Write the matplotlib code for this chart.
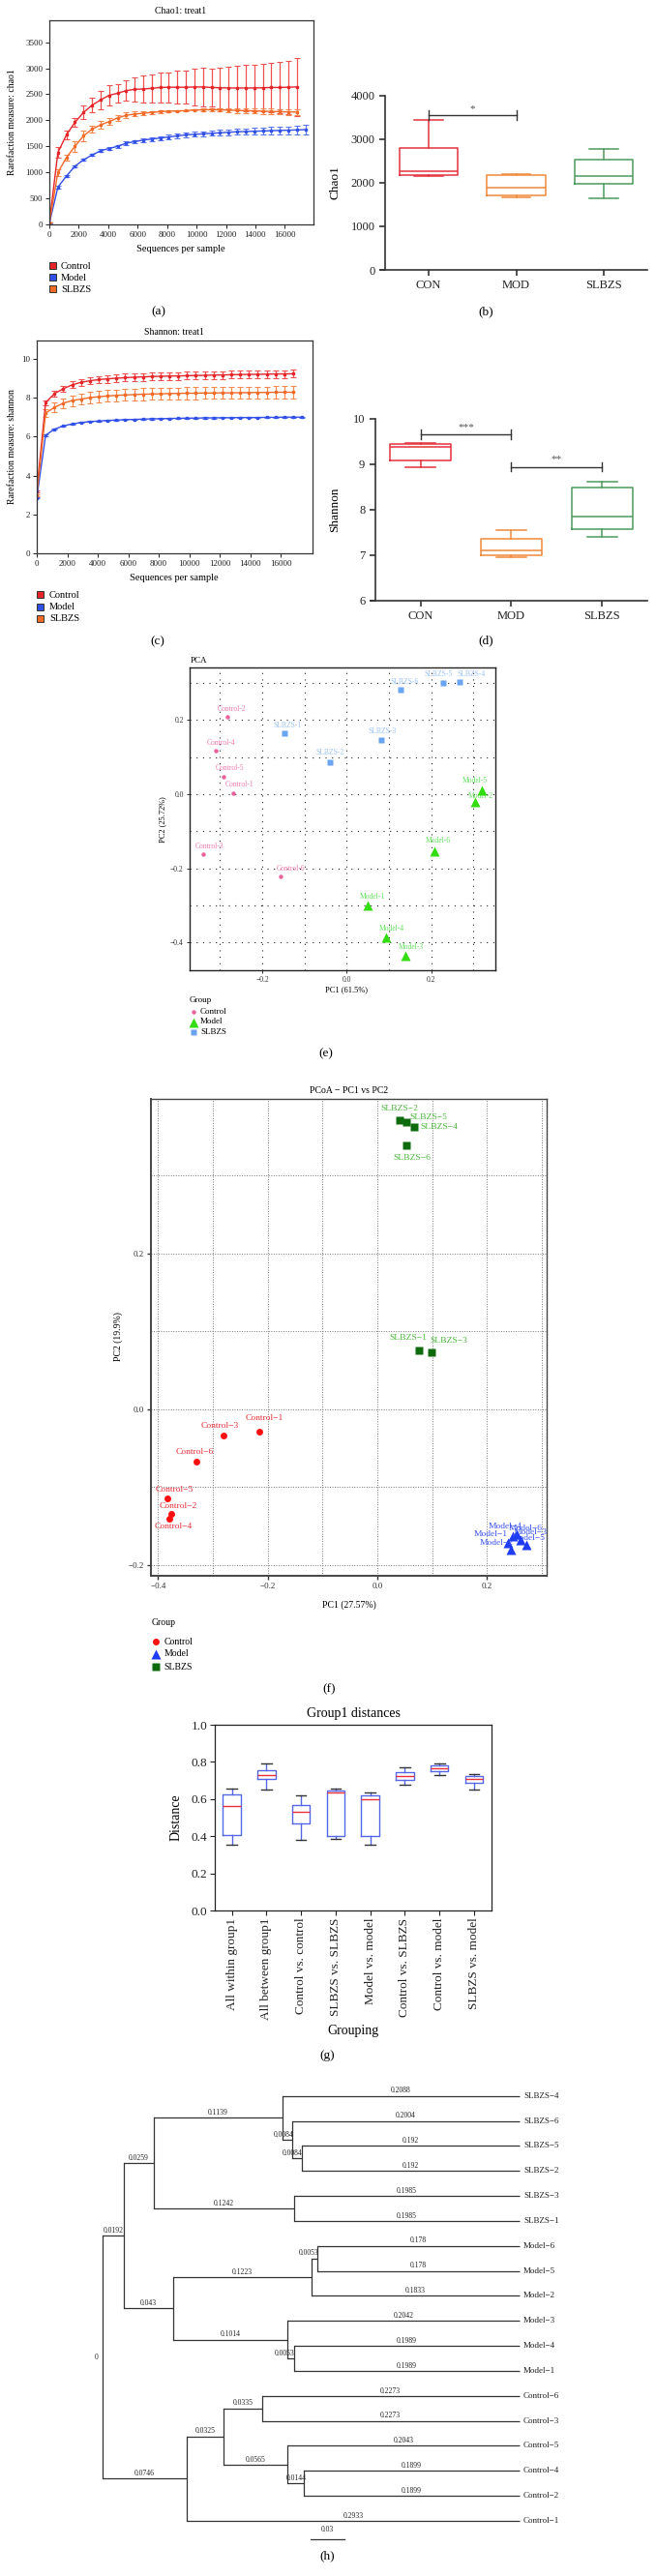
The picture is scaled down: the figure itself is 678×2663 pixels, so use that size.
import matplotlib
matplotlib.use("Agg")
import matplotlib.pyplot as plt
import numpy as np
from matplotlib.patches import Rectangle

plt.rcParams['font.family'] = ['Liberation Serif', 'DejaVu Serif']
plt.rcParams['axes.unicode_minus'] = True

# ---------------- data ----------------
depth = [0, 580, 1160, 1740, 2320, 2900, 3480, 4060, 4640, 5220, 5800, 6380, 6960, 7540, 8120,
         8700, 9280, 9860, 10440, 11020, 11600, 12180, 12760, 13340, 13920, 14500, 15080, 15660,
         16240, 16820]
depth_model = depth + [17400]

chao_control = [30, 1380, 1720, 1960, 2150, 2290, 2390, 2480, 2520, 2570, 2595, 2600, 2615, 2630, 2635,
                2635, 2635, 2640, 2640, 2630, 2625, 2620, 2620, 2620, 2620, 2625, 2630, 2630, 2635, 2640]
chao_control_err = [0, 100, 90, 90, 130, 140, 170, 200, 180, 200, 230, 260, 270, 280, 290, 310, 320, 360,
                    370, 370, 390, 400, 420, 440, 450, 460, 480, 490, 510, 550]
chao_slbzs = [30, 995, 1285, 1500, 1700, 1830, 1910, 1975, 2045, 2095, 2120, 2135, 2150, 2165, 2175, 2180,
              2185, 2200, 2200, 2205, 2200, 2195, 2190, 2185, 2180, 2175, 2170, 2165, 2160, 2160]
chao_slbzs_err = [0, 60, 60, 100, 110, 70, 70, 60, 55, 60, 45, 35, 30, 25, 20, 15, 15, 15, 30, 30, 35, 40,
                  45, 45, 50, 50, 55, 55, 60, 60]
chao_model = [20, 715, 930, 1118, 1240, 1333, 1415, 1458, 1500, 1560, 1590, 1620, 1640, 1660, 1680, 1700,
              1720, 1730, 1740, 1750, 1760, 1770, 1780, 1785, 1790, 1795, 1800, 1805, 1810, 1815, 1820]
chao_model_err = [0, 20, 20, 20, 20, 20, 25, 25, 25, 30, 30, 35, 35, 35, 40, 40, 45, 45, 50, 50, 55, 55,
                  60, 60, 65, 65, 70, 70, 75, 80, 85]

shan_control = [3.2, 7.75, 8.21, 8.46, 8.66, 8.79, 8.87, 8.93, 8.97, 9.0, 9.03, 9.05, 9.07, 9.09, 9.1,
                9.11, 9.12, 9.13, 9.14, 9.15, 9.16, 9.17, 9.18, 9.19, 9.2, 9.2, 9.21, 9.22, 9.22, 9.23]
shan_control_err = [0.05, 0.12, 0.14, 0.16, 0.17, 0.18, 0.19, 0.19, 0.2, 0.2, 0.2, 0.2, 0.2, 0.2, 0.2,
                    0.2, 0.2, 0.2, 0.2, 0.2, 0.2, 0.2, 0.2, 0.2, 0.2, 0.2, 0.2, 0.2, 0.2, 0.2]
shan_slbzs = [3.0, 7.21, 7.5, 7.72, 7.85, 7.93, 8.0, 8.05, 8.09, 8.12, 8.14, 8.16, 8.18, 8.19, 8.2, 8.21,
              8.22, 8.23, 8.23, 8.24, 8.24, 8.25, 8.25, 8.26, 8.26, 8.27, 8.27, 8.28, 8.28, 8.28]
shan_slbzs_err = [0.05, 0.22, 0.24, 0.26, 0.27, 0.28, 0.28, 0.29, 0.29, 0.29, 0.3, 0.3, 0.3, 0.3, 0.3,
                  0.3, 0.3, 0.3, 0.3, 0.3, 0.3, 0.3, 0.3, 0.3, 0.3, 0.3, 0.3, 0.3, 0.3, 0.3]
shan_model = [2.85, 6.07, 6.38, 6.55, 6.65, 6.72, 6.77, 6.8, 6.83, 6.85, 6.87, 6.88, 6.9, 6.91, 6.92,
              6.93, 6.94, 6.95, 6.95, 6.96, 6.96, 6.97, 6.97, 6.98, 6.98, 6.98, 6.99, 6.99, 7.0, 7.0, 7.0]
shan_model_err = [0.03] * 31

box_groups = ['CON', 'MOD', 'SLBZS']
chao_whislo = [2160, 1671, 1634]
chao_q1 = [2180, 1715, 1967]
chao_med = [2270, 1878, 2144]
chao_q3 = [2790, 2166, 2536]
chao_whishi = [3431, 2188, 2765]

shan_whislo = [8.93, 6.95, 7.40]
shan_q1 = [9.085, 6.985, 7.56]
shan_med = [9.38, 7.09, 7.84]
shan_q3 = [9.45, 7.35, 8.48]
shan_whishi = [9.47, 7.55, 8.61]

pca_names = ['Control-1', 'Control-2', 'Control-3', 'Control-4', 'Control-5', 'Control-6',
             'Model-1', 'Model-2', 'Model-3', 'Model-4', 'Model-5', 'Model-6',
             'SLBZS-1', 'SLBZS-2', 'SLBZS-3', 'SLBZS-4', 'SLBZS-5', 'SLBZS-6']
pca_pc1 = [-0.269, -0.2825, -0.340, -0.310, -0.292, -0.156,
           0.050, 0.305, 0.140, 0.092, 0.319, 0.207,
           -0.147, -0.039, 0.0825, 0.268, 0.228, 0.127]
pca_pc2 = [0.003, 0.209, -0.162, 0.117, 0.048, -0.221,
           -0.301, -0.021, -0.435, -0.387, 0.011, -0.155,
           0.1635, 0.087, 0.146, 0.303, 0.301, 0.281]

pcoa_names = pca_names
pcoa_pc1 = [-0.2154, -0.3753, -0.281, -0.380, -0.3838, -0.330,
            0.238, 0.243, 0.262, 0.248, 0.272, 0.255,
            0.0753, 0.0406, 0.0983, 0.0667, 0.053, 0.0537]
pcoa_pc2 = [-0.0286, -0.134, -0.0335, -0.140, -0.114, -0.0668,
            -0.172, -0.180, -0.168, -0.163, -0.174, -0.160,
            0.0754, 0.371, 0.0729, 0.362, 0.369, 0.3395]

dist_groups = ['All within group1', 'All between group1', 'Control vs. control', 'SLBZS vs. SLBZS',
               'Model vs. model', 'Control vs. SLBZS', 'Control vs. model', 'SLBZS vs. model']
dist_whislo = [0.356, 0.653, 0.379, 0.384, 0.356, 0.679, 0.730, 0.651]
dist_q1 = [0.407, 0.709, 0.467, 0.400, 0.402, 0.705, 0.751, 0.688]
dist_med = [0.565, 0.730, 0.530, 0.635, 0.600, 0.726, 0.767, 0.707]
dist_q3 = [0.623, 0.756, 0.570, 0.647, 0.619, 0.744, 0.779, 0.723]
dist_whishi = [0.658, 0.793, 0.621, 0.658, 0.635, 0.770, 0.793, 0.735]

leaf_order = ['SLBZS-4', 'SLBZS-6', 'SLBZS-5', 'SLBZS-2', 'SLBZS-3', 'SLBZS-1',
              'Model-6', 'Model-5', 'Model-2', 'Model-3', 'Model-4', 'Model-1',
              'Control-6', 'Control-3', 'Control-5', 'Control-4', 'Control-2', 'Control-1']
tree_edges = [
    ('root', 'A', 0.0192), ('A', 'B', 0.0259), ('B', 'C', 0.1139), ('C', 'SLBZS-4', 0.2088),
    ('C', 'D', 0.0084), ('D', 'SLBZS-6', 0.2004), ('D', 'E', 0.0084), ('E', 'SLBZS-5', 0.192),
    ('E', 'SLBZS-2', 0.192), ('B', 'F', 0.1242), ('F', 'SLBZS-3', 0.1985), ('F', 'SLBZS-1', 0.1985),
    ('A', 'G', 0.043), ('G', 'H', 0.1223), ('H', 'I', 0.0053), ('I', 'Model-6', 0.178),
    ('I', 'Model-5', 0.178), ('H', 'Model-2', 0.1833), ('G', 'J', 0.1014), ('J', 'Model-3', 0.2042),
    ('J', 'K', 0.0053), ('K', 'Model-4', 0.1989), ('K', 'Model-1', 0.1989),
    ('root', 'L', 0.0746), ('L', 'M', 0.0325), ('M', 'N', 0.0335), ('N', 'Control-6', 0.2273),
    ('N', 'Control-3', 0.2273), ('M', 'O', 0.0565), ('O', 'Control-5', 0.2043), ('O', 'P', 0.0144),
    ('P', 'Control-4', 0.1899), ('P', 'Control-2', 0.1899), ('L', 'Control-1', 0.2933)]
scale_bar_len = 0.03

# ---------------- figure ----------------
W, H = 678, 2663
fig = plt.figure(figsize=(W / 100, H / 100), dpi=100)
PT = 0.72  # points per pixel


def pax(l, t, r, b, **kw):
    return fig.add_axes([l / W, 1 - b / H, (r - l) / W, (b - t) / H], **kw)


ov = fig.add_axes([0, 0, 1, 1])
ov.set_xlim(0, W)
ov.set_ylim(H, 0)
ov.axis('off')


def T(x, y, s, size=7, ha='center', va='center', **kw):
    ov.text(x, y, s, ha=ha, va=va, fontsize=size, **kw)


RED, BLUE, ORANGE = '#e4262b', '#3350e6', '#f06a28'


def rare_panel(ax, series, xlim, ylim, yticks):
    for x, y, e, c, ec in series:
        ax.errorbar(x, y, yerr=e, color=c, ecolor=ec, lw=1.0, elinewidth=0.9, capsize=2.0,
                    capthick=0.8, marker='s', ms=1.6)
    ax.set_xlim(*xlim)
    ax.set_ylim(*ylim)
    ax.set_yticks(yticks)
    ax.set_xticks([0, 2000, 4000, 6000, 8000, 10000, 12000, 14000, 16000])
    ax.tick_params(labelsize=6.5, length=3, width=0.7, pad=2, colors='#222')
    for s in ax.spines.values():
        s.set_linewidth(0.9)
        s.set_color('#333')


# (a)
axA = pax(51, 21, 324, 232)
rare_panel(axA, [(depth, chao_control, chao_control_err, RED, '#ee5050'),
                 (depth_model, chao_model, chao_model_err, BLUE, '#5a76f0'),
                 (depth, chao_slbzs, chao_slbzs_err, ORANGE, '#f58a50')],
           (0, 17950), (0, 3920), [0, 500, 1000, 1500, 2000, 2500, 3000, 3500])
T(187, 12, 'Chao1: treat1', 7)
T(187, 258, 'Sequences per sample', 7.5)
T(13, 126, 'Rarefaction measure: chao1', 7, rotation=90)
for i, (lab, c) in enumerate(zip(['Control', 'Model', 'SLBZS'], [RED, BLUE, ORANGE])):
    ov.add_patch(Rectangle((50.5, 271 + 12 * i), 7, 7, facecolor=c, edgecolor='#333', lw=0.7))
    T(63, 275 + 12 * i, lab, 7.5, ha='left')
T(164, 322, '(a)', 9.5)

# (c)
axC = pax(38, 352, 323, 572)
rare_panel(axC, [(depth, shan_control, shan_control_err, RED, '#ee5050'),
                 (depth_model, shan_model, shan_model_err, BLUE, '#5a76f0'),
                 (depth, shan_slbzs, shan_slbzs_err, ORANGE, '#f58a50')],
           (0, 18090), (0, 10.94), [0, 2, 4, 6, 8, 10])
T(180, 343, 'Shannon: treat1', 7)
T(180, 598, 'Sequences per sample', 7.5)
T(13, 462, 'Rarefaction measure: shannon', 7, rotation=90)
for i, (lab, c) in enumerate(zip(['Control', 'Model', 'SLBZS'], [RED, BLUE, ORANGE])):
    ov.add_patch(Rectangle((37.5, 611 + 12.5 * i), 7, 7, facecolor=c, edgecolor='#333', lw=0.7))
    T(51, 615 + 12.5 * i, lab, 7.5, ha='left')
T(163, 663, '(c)', 9.5)

BOXC = ['#e2323f', '#f08a3c', '#4c9a5e']


def group_box(ax, lo, q1, med, q3, hi, ylim, yticks, ylabel_unused=None):
    stats = [dict(whislo=a, q1=b, med=c, q3=d, whishi=e) for a, b, c, d, e in zip(lo, q1, med, q3, hi)]
    bp = ax.bxp(stats, positions=[0, 1, 2], widths=0.67, capwidths=0.33, showfliers=False)
    for i, c in enumerate(BOXC):
        for art in [bp['boxes'][i], bp['medians'][i], bp['whiskers'][2 * i], bp['whiskers'][2 * i + 1],
                    bp['caps'][2 * i], bp['caps'][2 * i + 1]]:
            art.set_color(c)
            art.set_linewidth(1.1)
    ax.set_xlim(-0.5, 2.5)
    ax.set_ylim(*ylim)
    ax.set_yticks(yticks)
    ax.set_xticks([0, 1, 2])
    ax.set_xticklabels(box_groups)
    for s in ['top', 'right']:
        ax.spines[s].set_visible(False)
    for s in ['left', 'bottom']:
        ax.spines[s].set_linewidth(1.2)
        ax.spines[s].set_color('#333')
    ax.tick_params(labelsize=9, length=4.5, width=1.1, pad=3, colors='#222')
    ax.spines['bottom'].set_bounds(-0.55, 2.5)


def sig(ax, x0, x1, y, h, txt, ty):
    ax.plot([x0, x1], [y, y], color='#333', lw=1.0, clip_on=False)
    for xx in (x0, x1):
        ax.plot([xx, xx], [y - h, y + h], color='#333', lw=1.0, clip_on=False)
    ax.text((x0 + x1) / 2, ty, txt, ha='center', va='center', fontsize=8, color='#555')


# (b)
axB = pax(398, 98.7, 669, 279)
group_box(axB, chao_whislo, chao_q1, chao_med, chao_q3, chao_whishi, (0, 4000), [0, 1000, 2000, 3000, 4000])
sig(axB, 0, 1, 3549, 111, '*', 3700)
T(347, 189, 'Chao1', 9.5, rotation=90)
T(502, 322, '(b)', 9.5)

# (d)
axD = pax(387.7, 432.7, 669, 620.7)
group_box(axD, shan_whislo, shan_q1, shan_med, shan_q3, shan_whishi, (6, 10), [6, 7, 8, 9, 10])
sig(axD, 0, 1, 9.65, 0.105, '***', 9.8)
sig(axD, 1, 2, 8.94, 0.105, '**', 9.1)
T(346, 527, 'Shannon', 9.5, rotation=90)
T(502, 662, '(d)', 9.5)

# ---------------- (e) PCA ----------------
axE = pax(196, 690, 512, 1002.7)
axE.set_xlim(-0.372, 0.352)
axE.set_ylim(-0.474, 0.342)
for g in [-0.3, -0.2, -0.1, 0.0, 0.1, 0.2, 0.3]:
    axE.axvline(g, color='#222', lw=0.8, ls=(0, (1, 5)), zorder=0)
for g in [-0.4, -0.3, -0.2, -0.1, 0.0, 0.1, 0.2, 0.3]:
    axE.axhline(g, color='#222', lw=0.8, ls=(0, (1, 5)), zorder=0)
axE.set_xticks([-0.2, 0.0, 0.2])
axE.set_yticks([-0.4, -0.2, 0.0, 0.2])
axE.set_xticklabels(['\u22120.2', '0.0', '0.2'])
axE.set_yticklabels(['\u22120.4', '\u22120.2', '0.0', '0.2'])
axE.tick_params(labelsize=5.5, length=2.5, width=0.7, pad=2, colors='#333')
for s in axE.spines.values():
    s.set_linewidth(1.0)
    s.set_color('#222')

pca_style = {'Control': ('o', 3.2, '#e8619b', '#f17bab'),
             'Model': ('^', 7.0, '#33dd11', '#5fe05a'),
             'SLBZS': ('s', 5.0, '#6aa3f0', '#9cc3f5')}
pca_off = {'Control-1': (7, -9), 'Control-2': (4, -8), 'Control-3': (7, -8), 'Control-4': (6, -8),
           'Control-5': (7, -9), 'Control-6': (10, -8), 'Model-1': (5, -9), 'Model-2': (5, -6),
           'Model-3': (5, -9), 'Model-4': (6, -9), 'Model-5': (-7, -10), 'Model-6': (4, -11),
           'SLBZS-1': (3, -8), 'SLBZS-2': (0, -10), 'SLBZS-3': (1, -9), 'SLBZS-4': (12, -8),
           'SLBZS-5': (-5, -9), 'SLBZS-6': (4, -8)}
for n, x, y in zip(pca_names, pca_pc1, pca_pc2):
    m, ms, c, lc = pca_style[n.split('-')[0]]
    axE.plot([x], [y], marker=m, ms=ms, color=c, ls='none', mec='none', zorder=3, clip_on=False)
    dx, dy = pca_off[n]
    axE.annotate(n, (x, y), xytext=(dx * PT, -dy * PT), textcoords='offset points', ha='center',
                 va='center', fontsize=5.5, color=lc, annotation_clip=False)
T(197, 683, 'PCA', 6.5, ha='left')
T(358, 1023, 'PC1 (61.5%)', 6)
T(168, 847, 'PC2 (25.72%)', 6, rotation=90)
T(196, 1034, 'Group', 6.5, ha='left')
for i, (k, lab) in enumerate(zip(['Control', 'Model', 'SLBZS'], ['Control', 'Model', 'SLBZS'])):
    m, ms, c, lc = pca_style[k]
    ov.plot([200], [1046 + 10.5 * i], marker=m, ms=ms, color=c, mec='none', ls='none')
    T(207, 1046 + 10.5 * i, lab, 6.5, ha='left')
T(337, 1089, '(e)', 9.5)

# ---------------- (f) PCoA ----------------
axF = pax(155.7, 1135.7, 565, 1628.7)
axF.set_xlim(-0.4136, 0.309)
axF.set_ylim(-0.2133, 0.399)
for g in [-0.4, -0.3, -0.2, -0.1, 0.0, 0.1, 0.2, 0.3]:
    axF.axvline(g, color='#777', lw=0.7, ls=(0, (1, 1.6)), zorder=0)
for g in [-0.2, -0.1, 0.0, 0.1, 0.2, 0.3]:
    axF.axhline(g, color='#777', lw=0.7, ls=(0, (1, 1.6)), zorder=0)
axF.set_xticks([-0.4, -0.2, 0.0, 0.2])
axF.set_xticklabels(['\u22120.4', '\u22120.2', '0.0', '0.2'])
axF.set_yticks([-0.2, 0.0, 0.2])
axF.set_yticklabels(['\u22120.2', '0.0', '0.2'])
axF.tick_params(labelsize=6.5, length=3, width=1.0, pad=2, colors='#333')
for s in axF.spines.values():
    s.set_linewidth(1.0)
    s.set_color('#444')
axF.spines['left'].set_linewidth(1.4)
axF.spines['bottom'].set_linewidth(1.4)

pcoa_style = {'Control': ('o', 5.0, '#ff1010', '#e8303a'),
              'Model': ('^', 7.5, '#1f3cf5', '#3a55f0'),
              'SLBZS': ('s', 6.0, '#0d6b0d', '#4cb83c')}
pcoa_off = {'Control-1': (5, -14), 'Control-2': (7, -8), 'Control-3': (-4, -10), 'Control-4': (5, 8),
            'Control-5': (8, -9), 'Control-6': (-2, -10), 'Model-1': (-18, -9), 'Model-2': (-14, -7),
            'Model-3': (10, -8), 'Model-4': (-8, -10), 'Model-5': (2, -7), 'Model-6': (9, -6),
            'SLBZS-1': (-11, -13), 'SLBZS-2': (0, -12), 'SLBZS-3': (18, -12), 'SLBZS-4': (26, 0),
            'SLBZS-5': (23, -5), 'SLBZS-6': (5, 13)}
for n, x, y in zip(pcoa_names, pcoa_pc1, pcoa_pc2):
    m, ms, c, lc = pcoa_style[n.split('-')[0]]
    axF.plot([x], [y], marker=m, ms=ms, color=c, ls='none', mec='none', zorder=3)
    dx, dy = pcoa_off[n]
    axF.annotate(n.replace('-', '\u2212'), (x, y), xytext=(dx * PT, -dy * PT), textcoords='offset points',
                 ha='center', va='center', fontsize=6.8, color=lc, annotation_clip=False)
T(361, 1127, 'PCoA \u2212 PC1 vs PC2', 7)
T(361, 1659.5, 'PC1 (27.57%)', 7)
T(122, 1382, 'PC2 (19.9%)', 7, rotation=90)
T(156.5, 1677, 'Group', 7, ha='left')
for i, k in enumerate(['Control', 'Model', 'SLBZS']):
    m, ms, c, lc = pcoa_style[k]
    ov.plot([161], [1697 + 13 * i], marker=m, ms=ms, color=c, mec='none', ls='none')
    T(169.5, 1697 + 13 * i, k, 7, ha='left')
T(340, 1746, '(f)', 9.5)

# ---------------- (g) distances ----------------
axG = pax(221.7, 1783, 507.8, 1975)
stats = [dict(whislo=a, q1=b, med=c, q3=d, whishi=e)
         for a, b, c, d, e in zip(dist_whislo, dist_q1, dist_med, dist_q3, dist_whishi)]
bpG = axG.bxp(stats, positions=range(1, 9), widths=0.52, capwidths=0.3, showfliers=False,
              boxprops=dict(color='#5566e6', lw=1.0), whiskerprops=dict(color='#5566e6', lw=1.0),
              capprops=dict(color='#333', lw=1.0), medianprops=dict(color='#e8303a', lw=1.0))
axG.set_xlim(0.5, 8.5)
axG.set_ylim(0, 1)
axG.set_yticks([0.0, 0.2, 0.4, 0.6, 0.8, 1.0])
axG.set_yticklabels(['0.0', '0.2', '0.4', '0.6', '0.8', '1.0'])
axG.set_xticks(range(1, 9))
axG.set_xticklabels(dist_groups, rotation=90)
axG.tick_params(labelsize=9.5, length=3.5, width=0.8, pad=2, colors='#222')
for s in axG.spines.values():
    s.set_linewidth(0.9)
    s.set_color('#222')
T(365, 1771, 'Group1 distances', 10)
T(181.7, 1879, 'Distance', 10, rotation=90)
T(365, 2099, 'Grouping', 10)
T(338, 2125, '(g)', 9.5)

# ---------------- (h) tree ----------------
axH = pax(105.7, 2166.7, 537, 2606)
children = {}
blen = {}
for p, c, l in tree_edges:
    children.setdefault(p, []).append(c)
    blen[c] = l
xpos = {'root': 0.0}


def setx(n):
    for c in children.get(n, []):
        xpos[c] = xpos[n] + blen[c]
        setx(c)


setx('root')
total = max(xpos[l] for l in leaf_order)
ypos = {l: i for i, l in enumerate(leaf_order)}


def sety(n):
    if n in ypos:
        return ypos[n]
    ys = [sety(c) for c in children[n]]
    ypos[n] = (min(ys) + max(ys)) / 2
    return ypos[n]


sety('root')
axH.set_xlim(0, total)
axH.set_ylim(len(leaf_order) - 1, 0)
axH.axis('off')
LC = '#333'
for p, c, l in tree_edges:
    axH.plot([xpos[p], xpos[c]], [ypos[c], ypos[c]], color=LC, lw=0.9, clip_on=False,
             solid_capstyle='butt')
    lab = ('%.4f' % l).rstrip('0').rstrip('.')
    if l < 0.01:
        axH.text(xpos[c] + 0.001, ypos[c] - 0.05, lab, ha='right', va='bottom', fontsize=5.5, color='#222')
    else:
        axH.text((xpos[p] + xpos[c]) / 2, ypos[c] - 0.05, lab, ha='center', va='bottom', fontsize=5.5,
                 color='#222')
for n, cs in children.items():
    ys = [ypos[c] for c in cs]
    axH.plot([xpos[n], xpos[n]], [min(ys), max(ys)], color=LC, lw=0.9, clip_on=False)
axH.text(-0.004, ypos['root'], '0', ha='right', va='center', fontsize=5.5, color='#222')
for l in leaf_order:
    axH.text(total + 0.0035, ypos[l], l.replace('-', '\u2212'), ha='left', va='center', fontsize=6.5,
             color='#222')
axH.plot([0.1837, 0.1837 + scale_bar_len], [17.72, 17.72], color=LC, lw=0.9, clip_on=False)
axH.text(0.1837 + scale_bar_len / 2, 17.5, '0.03', ha='center', va='bottom', fontsize=5.5, color='#222')
T(338, 2642, '(h)', 9.5)

fig.savefig('out.png', dpi=100)
